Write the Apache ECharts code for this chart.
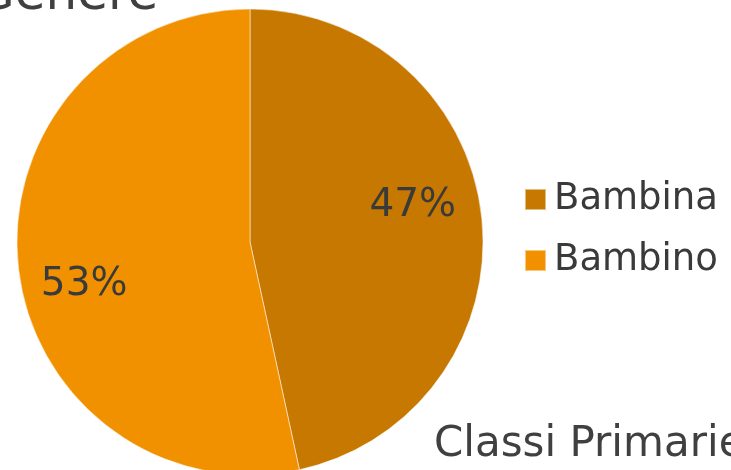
<!DOCTYPE html>
<html>
<head>
<meta charset="utf-8">
<script src="https://cdn.jsdelivr.net/npm/echarts@6/dist/echarts.min.js"></script>
<style>
  html, body { margin: 0; padding: 0; background: #fff; }
  #container { width: 731px; height: 470px; }
</style>
</head>
<body>
<div id="container"></div>
<script>
// data
var categories = ['Bambina', 'Bambino'];
var values = [46.6, 53.4];
var colors = ['#C77800', '#F19100'];

var pieData = categories.map(function (name, i) {
    return { name: name, value: values[i], itemStyle: { color: colors[i] } };
});

var myChart = echarts.init(document.getElementById('container'));
var option = {
    animation: false,
    title: [
        {
            text: 'Genere',
            left: -24,
            top: -29,
            padding: 0,
            textStyle: { fontFamily: 'DejaVu Sans', fontSize: 50, fontWeight: 'normal', color: '#404040' }
        },
        {
            text: 'Classi Primarie',
            left: 434,
            top: 424,
            padding: 0,
            textStyle: { fontFamily: 'DejaVu Sans', fontSize: 42, fontWeight: 'normal', color: '#404040' }
        }
    ],
    legend: {
        orient: 'vertical',
        left: 524,
        top: 181,
        padding: 0,
        icon: 'rect',
        itemWidth: 21,
        itemHeight: 21,
        itemGap: 24,
        selectedMode: false,
        textStyle: { fontFamily: 'DejaVu Sans', fontSize: 37, color: '#3a3a3a', padding: [0, 0, 0, 3] },
        data: categories
    },
    series: [
        {
            name: 'Genere',
            type: 'pie',
            radius: 233,
            center: [250, 242],
            startAngle: 90,
            clockwise: true,
            percentPrecision: 0,
            itemStyle: { borderColor: 'rgba(255,255,255,0.5)', borderWidth: 1 },
            label: {
                position: 'inside',
                formatter: '{d}%',
                fontFamily: 'DejaVu Sans',
                fontSize: 39,
                color: '#3a3a3a'
            },
            labelLayout: function (p) {
                return p.dataIndex === 0 ? { dx: 44, dy: -23 } : { dx: -47, dy: 30 };
            },
            emphasis: { disabled: true },
            data: pieData
        }
    ]
};
myChart.setOption(option);
</script>
</body>
</html>
